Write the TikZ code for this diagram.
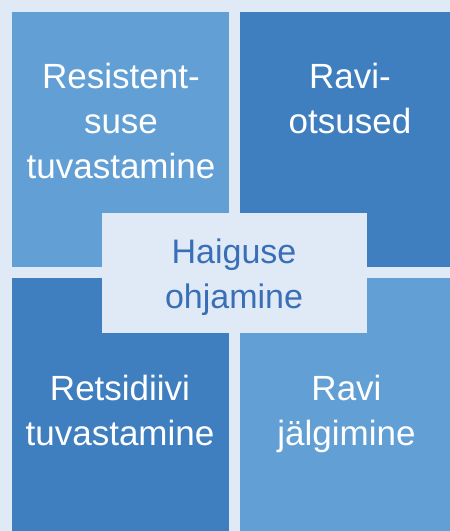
\documentclass[tikz,border=0pt]{standalone}
\usepackage{fontspec}
\setmainfont{Liberation Sans}
\definecolor{bg}{HTML}{DFEAF6}
\definecolor{lightq}{HTML}{629FD5}
\definecolor{darkq}{HTML}{3F7FC0}
\definecolor{ctext}{HTML}{3A6FB8}
\tikzset{
  quad/.style={draw=none, inner sep=0pt, outer sep=0pt},
  qtext/.style={text=white, align=center, inner sep=0pt, font=\fontsize{35}{45}\selectfont},
  ctr/.style={fill=bg, inner sep=0pt, outer sep=0pt, minimum width=265pt, minimum height=120pt},
  ctxt/.style={text=ctext, align=center, inner sep=0pt, font=\fontsize{34}{45}\selectfont}
}
\begin{document}
\begin{tikzpicture}[x=1pt, y=-1pt]
\useasboundingbox (0,0) rectangle (450,531);
\fill[bg] (0,0) rectangle (450,531);
\fill[lightq] (12,12) rectangle (229,267);
\fill[darkq] (240,12) rectangle (450,267);
\fill[darkq] (12,278) rectangle (229,531);
\fill[lightq] (240,278) rectangle (450,531);
\node[ctr] (centre) at (234.5,273) {};
\node[qtext] (tl) at (121,120.5) {Resistent-\\suse\\tuvastamine};
\node[qtext] (tr) at (350,98) {Ravi-\\otsused};
\node[qtext] (bl) at (120,410) {Retsidiivi\\tuvastamine};
\node[qtext] (br) at (346.5,413.5) {Ravi\\jälgimine};
\node[ctxt] (ct) at (234,277) {Haiguse\\ohjamine};
\end{tikzpicture}
\end{document}
